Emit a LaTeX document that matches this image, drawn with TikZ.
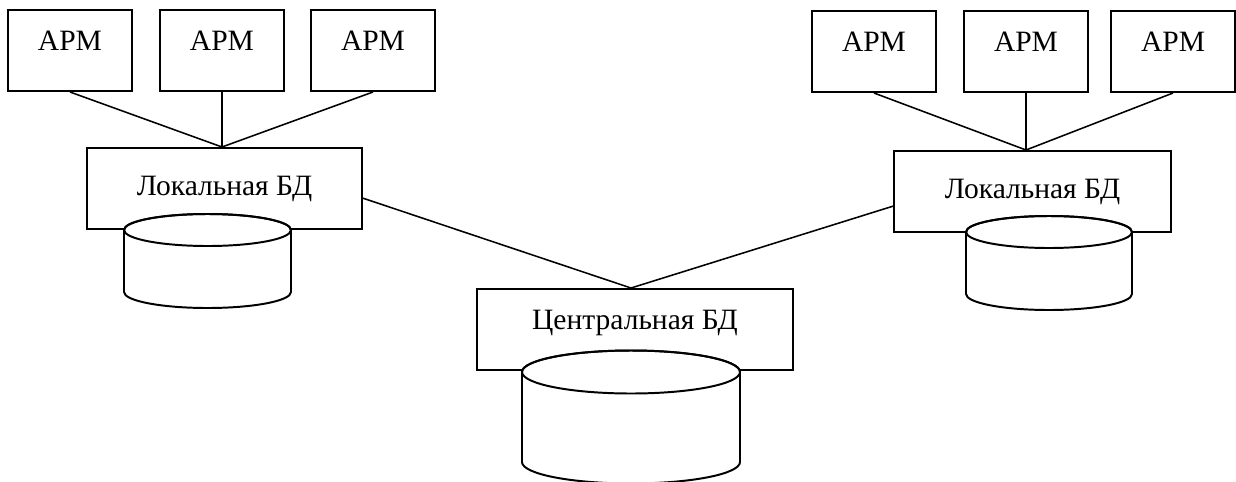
\documentclass[tikz,border=0pt]{standalone}
\usepackage{fontspec}
\setmainfont{Liberation Serif}
\usetikzlibrary{calc,positioning}

\begin{document}
\begin{tikzpicture}[
  x=0.025cm, y=0.025cm,
  line width=1.1pt,
  font=\fontsize{21}{24}\selectfont,
  armbox/.style={
    draw,
    line width=1.4pt,
    minimum width=3.1cm,
    minimum height=2.025cm,
    text height=2ex,
    text depth=2ex
    },
  dbbox/.style={
    draw,
    line width=1.4pt,
    minimum width=#1,
    minimum height=2.025cm
    },
  dbdisk/.style={
    draw,
    line width=1.4pt,
    fill=white
  }
]

\useasboundingbox (0,0) rectangle (1236,-481);

\foreach \n/\x in {1/70, 2/222, 3/373}
    \node [armbox] (arm\n) at (\x, -50.5) {АРМ};
\foreach \n/\x in {4/874, 5/1026, 6/1173}
    \node [armbox] (arm\n) at (\x, -51.5) {АРМ};

\node [dbbox=6.875cm] (locl) at (224.5, -188.5) {Локальная БД};
\node [dbbox=6.925cm] (locr) at (1032.5, -191.5) {Локальная БД};
\node [dbbox=7.9cm, text height=2ex, text depth=2ex] (cen) at (635, -329.5) {Центральная БД};

\coordinate (jl) at (arm2.south |- locl.north);
\coordinate (jr) at (arm5.south |- locr.north);
\coordinate (jc) at ($(cen.north)+(-4,0)$);

\foreach \n in {1, 2, 3}
    \draw (arm\n.south) -- (jl);
\foreach \n in {4, 5, 6}
    \draw (arm\n.south) -- (jr);
\draw (locl.-4) -- (jc);
\draw (locr.186) -- (jc);

% cylinders over the boxes
\foreach \cx/\cy/\rx/\ry/\h in {207.5/230/83.5/16/62, 1049/232/83/16/62, 631/372/109/21.5/90} {
    \filldraw [dbdisk] ({\cx-\rx},{-\cy}) -- ++(0,-\h)
        arc [start angle=180, end angle=360, x radius=\rx, y radius=\ry]
        -- ++(0,\h)
        arc [start angle=0, end angle=180, x radius=\rx, y radius=\ry] -- cycle;
    \draw [line width=1.4pt] (\cx,-\cy) ellipse [x radius=\rx, y radius=\ry];
}
\end{tikzpicture}
\end{document}
